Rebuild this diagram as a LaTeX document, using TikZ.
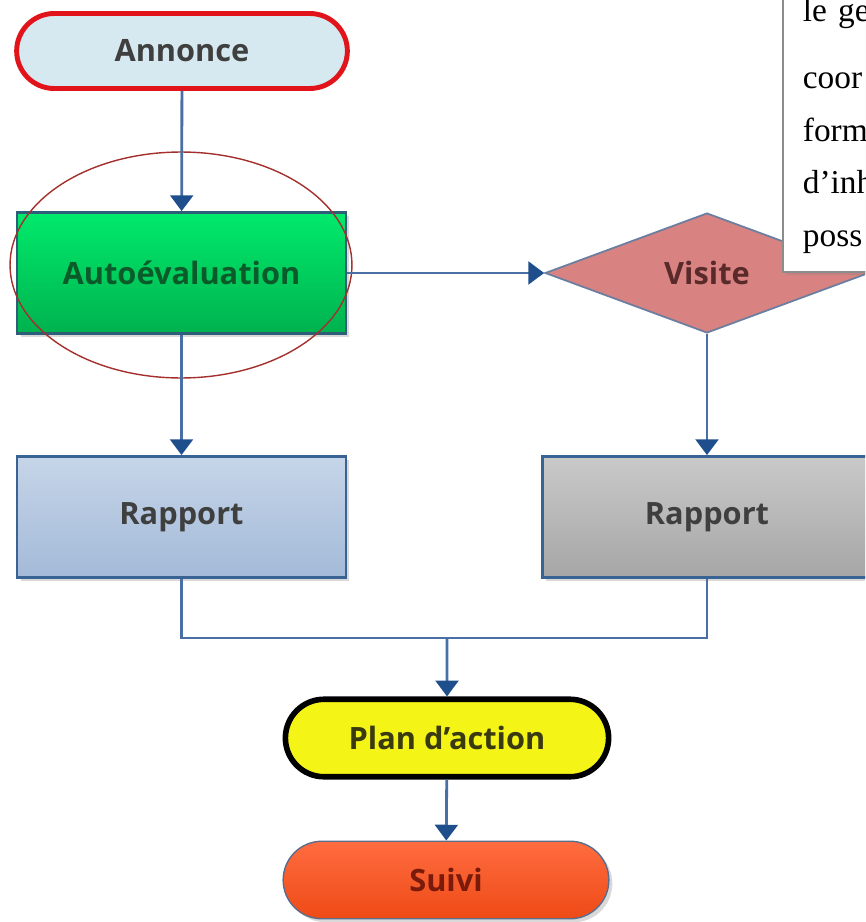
\documentclass[tikz,border=0pt]{standalone}
\usepackage{fontspec}
\setmainfont{Liberation Serif}
\setsansfont{Open Sans}
\usetikzlibrary{arrows.meta, shapes.geometric, shapes.misc, shadows}
\definecolor{flowLine}{HTML}{4A6FA5}
\definecolor{flowHead}{HTML}{1F4E8C}
\definecolor{flowText}{HTML}{3F3F3F}
\definecolor{annFill}{HTML}{D6E9F0}
\definecolor{annRed}{HTML}{E0141A}
\definecolor{autoTop}{HTML}{00EA6C}
\definecolor{autoBot}{HTML}{00B24E}
\definecolor{autoDraw}{HTML}{2E5E78}
\definecolor{autoText}{HTML}{0B5A2A}
\definecolor{markRed}{HTML}{A3302C}
\definecolor{visFill}{HTML}{D88282}
\definecolor{visDraw}{HTML}{6A7FA0}
\definecolor{visText}{HTML}{5A2A2A}
\definecolor{rapTop}{HTML}{C6D5E8}
\definecolor{rapBot}{HTML}{A3BAD8}
\definecolor{rapDraw}{HTML}{3A6395}
\definecolor{greyTop}{HTML}{C9C9C9}
\definecolor{greyBot}{HTML}{A6A6A6}
\definecolor{planFill}{HTML}{F4F417}
\definecolor{planText}{HTML}{3A3A10}
\definecolor{suiTop}{HTML}{FF6C40}
\definecolor{suiBot}{HTML}{EE4A16}
\definecolor{suiDraw}{HTML}{5A6E8C}
\definecolor{suiText}{HTML}{7A1A0A}
\definecolor{noteDraw}{HTML}{8C8C8C}

\begin{document}
\begin{tikzpicture}[
    x=0.02cm, y=-0.02cm,
    pill/.style={rounded rectangle, minimum width=6.75cm, minimum height=1.55cm,
                 font=\sffamily\bfseries\fontsize{17.5}{20}\selectfont, text=#1},
    pill/.default=flowText,
    box/.style={rectangle, minimum width=6.58cm, minimum height=2.42cm, line width=1.6pt,
                font=\sffamily\bfseries\fontsize{17.5}{20}\selectfont, text=flowText,
                drop shadow={shadow xshift=2pt, shadow yshift=-2pt, opacity=0.3}},
    arrow/.style={-{Triangle[width=13pt, length=9pt, color=flowHead]},
                  line width=1.6pt, color=flowLine},
    link/.style={line width=1.6pt, color=flowLine}
]
    \useasboundingbox (0,0) rectangle (865,922);
    \clip (0,0) rectangle (865,922);

    % --- left branch ---
    \node[pill, fill=annFill, draw=annRed, line width=2.8pt, minimum width=6.85cm,
          minimum height=1.5cm] (annonce) at (182,51) {Annonce};
    \node[box, draw=autoDraw, top color=autoTop, bottom color=autoBot,
          text=autoText] (auto) at (181.5,273) {Autoévaluation};
    \node[draw=markRed, line width=0.8pt, ellipse, minimum width=6.84cm,
          minimum height=4.52cm, inner sep=0pt] (mark) at (181,265) {};
    \node[box, draw=rapDraw, top color=rapTop, bottom color=rapBot] (rapA) at (181.5,517) {Rapport};

    % --- right branch ---
    \node[diamond, draw=visDraw, line width=1pt, fill=visFill, inner sep=0pt,
          minimum width=6.48cm, minimum height=2.4cm, text=visText,
          font=\sffamily\bfseries\fontsize{17.5}{20}\selectfont] (visite) at (707,273) {Visite};
    \node[box, draw=rapDraw, top color=greyTop, bottom color=greyBot] (rapB) at (707,517) {Rapport};

    % --- bottom ---
    \node[pill=planText, fill=planFill, draw=black, line width=3.2pt,
          minimum width=6.7cm] (plan) at (447,738) {Plan d’action};
    \node[pill=suiText, top color=suiTop, bottom color=suiBot, draw=suiDraw, line width=0.8pt,
          drop shadow={shadow xshift=2pt, shadow yshift=-2pt, opacity=0.3}] (suivi) at (446,880) {Suivi};

    \draw[arrow] (annonce) -- (auto);
    \draw[arrow] (auto) -- (visite);
    \draw[arrow] (auto) -- (rapA);
    \draw[arrow] (visite) -- (rapB);

    \coordinate (join) at (447,638);
    \draw[link] (rapA.south) |- (join) -| (rapB.south);
    \draw[arrow] (join) -- (plan);
    \draw[arrow] (plan) -- (suivi);

    % --- note (cut off) ---
    \node[anchor=south west, draw=noteDraw, line width=1pt, fill=white,
          text width=4cm, align=left, inner xsep=0.4cm, inner ysep=0.37cm,
          font=\fontsize{19}{30}\selectfont,
          drop shadow={shadow xshift=1.5pt, shadow yshift=-1.5pt, opacity=0.25}]
          (note) at (782,273) {le ge\\[0.28cm]coor\\form\\d’inh\\poss};
\end{tikzpicture}
\end{document}
